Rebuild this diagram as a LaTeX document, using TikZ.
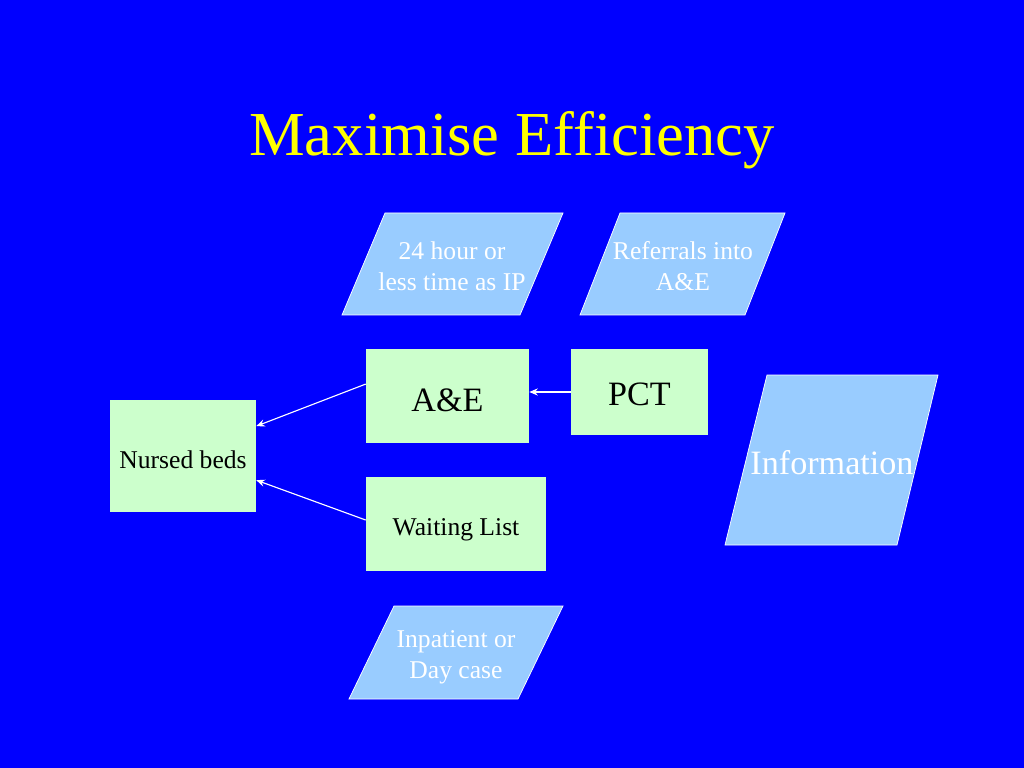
\documentclass[tikz,border=0pt]{standalone}
\usepackage{fontspec}
\setmainfont{Liberation Serif}
\usetikzlibrary{arrows.meta}
\definecolor{bgblue}{HTML}{0000FF}
\definecolor{boxgreen}{HTML}{CCFFCC}
\definecolor{parablue}{HTML}{99CCFF}
\definecolor{titleyellow}{HTML}{FFFF00}
\tikzset{
  greenbox/.style={fill=boxgreen, draw=none, inner sep=0pt},
  boxtext/.style={text=black, inner sep=0pt, align=center},
  parashape/.style={fill=parablue, draw=white, line width=0.5pt},
  paratext/.style={text=white, align=center, inner sep=0pt, font=\fontsize{18}{21.6}\selectfont},
  link/.style={draw=white, line width=0.8pt, -{Stealth[length=6pt,width=5pt]}}
}
\begin{document}
\begin{tikzpicture}[x=0.703125pt, y=-0.703125pt]
\useasboundingbox (0,0) rectangle (1024,768);
\fill[bgblue] (0,0) rectangle (1024,768);

% title
\node[text=titleyellow, font=\fontsize{44}{52}\selectfont, inner sep=0pt] (title) at (512,140) {Maximise Efficiency};

% parallelograms
\filldraw[parashape] (385,213) -- (563,213) -- (520,315) -- (342,315) -- cycle;
\node[paratext] (p1) at (452,266) {24 hour or\\less time as IP};

\filldraw[parashape] (620,213) -- (785,213) -- (745,315) -- (580,315) -- cycle;
\node[paratext] (p2) at (683,266) {Referrals into\\A\&E};

\filldraw[parashape] (767,375) -- (938,375) -- (897,545) -- (725,545) -- cycle;
\node[paratext, font=\fontsize{24}{28}\selectfont] (info) at (832,463) {Information};

\filldraw[parashape] (394,606) -- (563,606) -- (518,699) -- (349,699) -- cycle;
\node[paratext] (p3) at (456,657) {Inpatient or\\Day case};

% boxes
\node[greenbox, minimum width=102.66pt, minimum height=78.75pt] (nb) at (183,456) {};
\node[boxtext, font=\fontsize{18}{21.6}\selectfont] (nbt) at ([yshift=-2.8pt]nb.center) {Nursed beds};
\node[greenbox, minimum width=114.6pt, minimum height=66.1pt] (ae) at (447.5,396) {};
\node[boxtext, font=\fontsize{24}{28}\selectfont] (aet) at ([yshift=-2.8pt]ae.center) {A\&E};
\node[greenbox, minimum width=96.3pt, minimum height=60.5pt] (pct) at (639.5,392) {};
\node[boxtext, font=\fontsize{24}{28}\selectfont] (pctt) at ([yshift=-2pt]pct.center) {PCT};
\node[greenbox, minimum width=126.6pt, minimum height=66.1pt] (wl) at (456,524) {};
\node[boxtext, font=\fontsize{18}{21.6}\selectfont] (wlt) at ([yshift=-4.2pt]wl.center) {Waiting List};

% connectors
\draw[link] ([yshift=8.4pt]ae.west) -- ([yshift=21pt]nb.east);
\draw[link] ([yshift=2.8pt]wl.west) -- ([yshift=-17pt]nb.east);
\draw[link] (pct.west) -- (pct.west -| ae.east);
\end{tikzpicture}
\end{document}
